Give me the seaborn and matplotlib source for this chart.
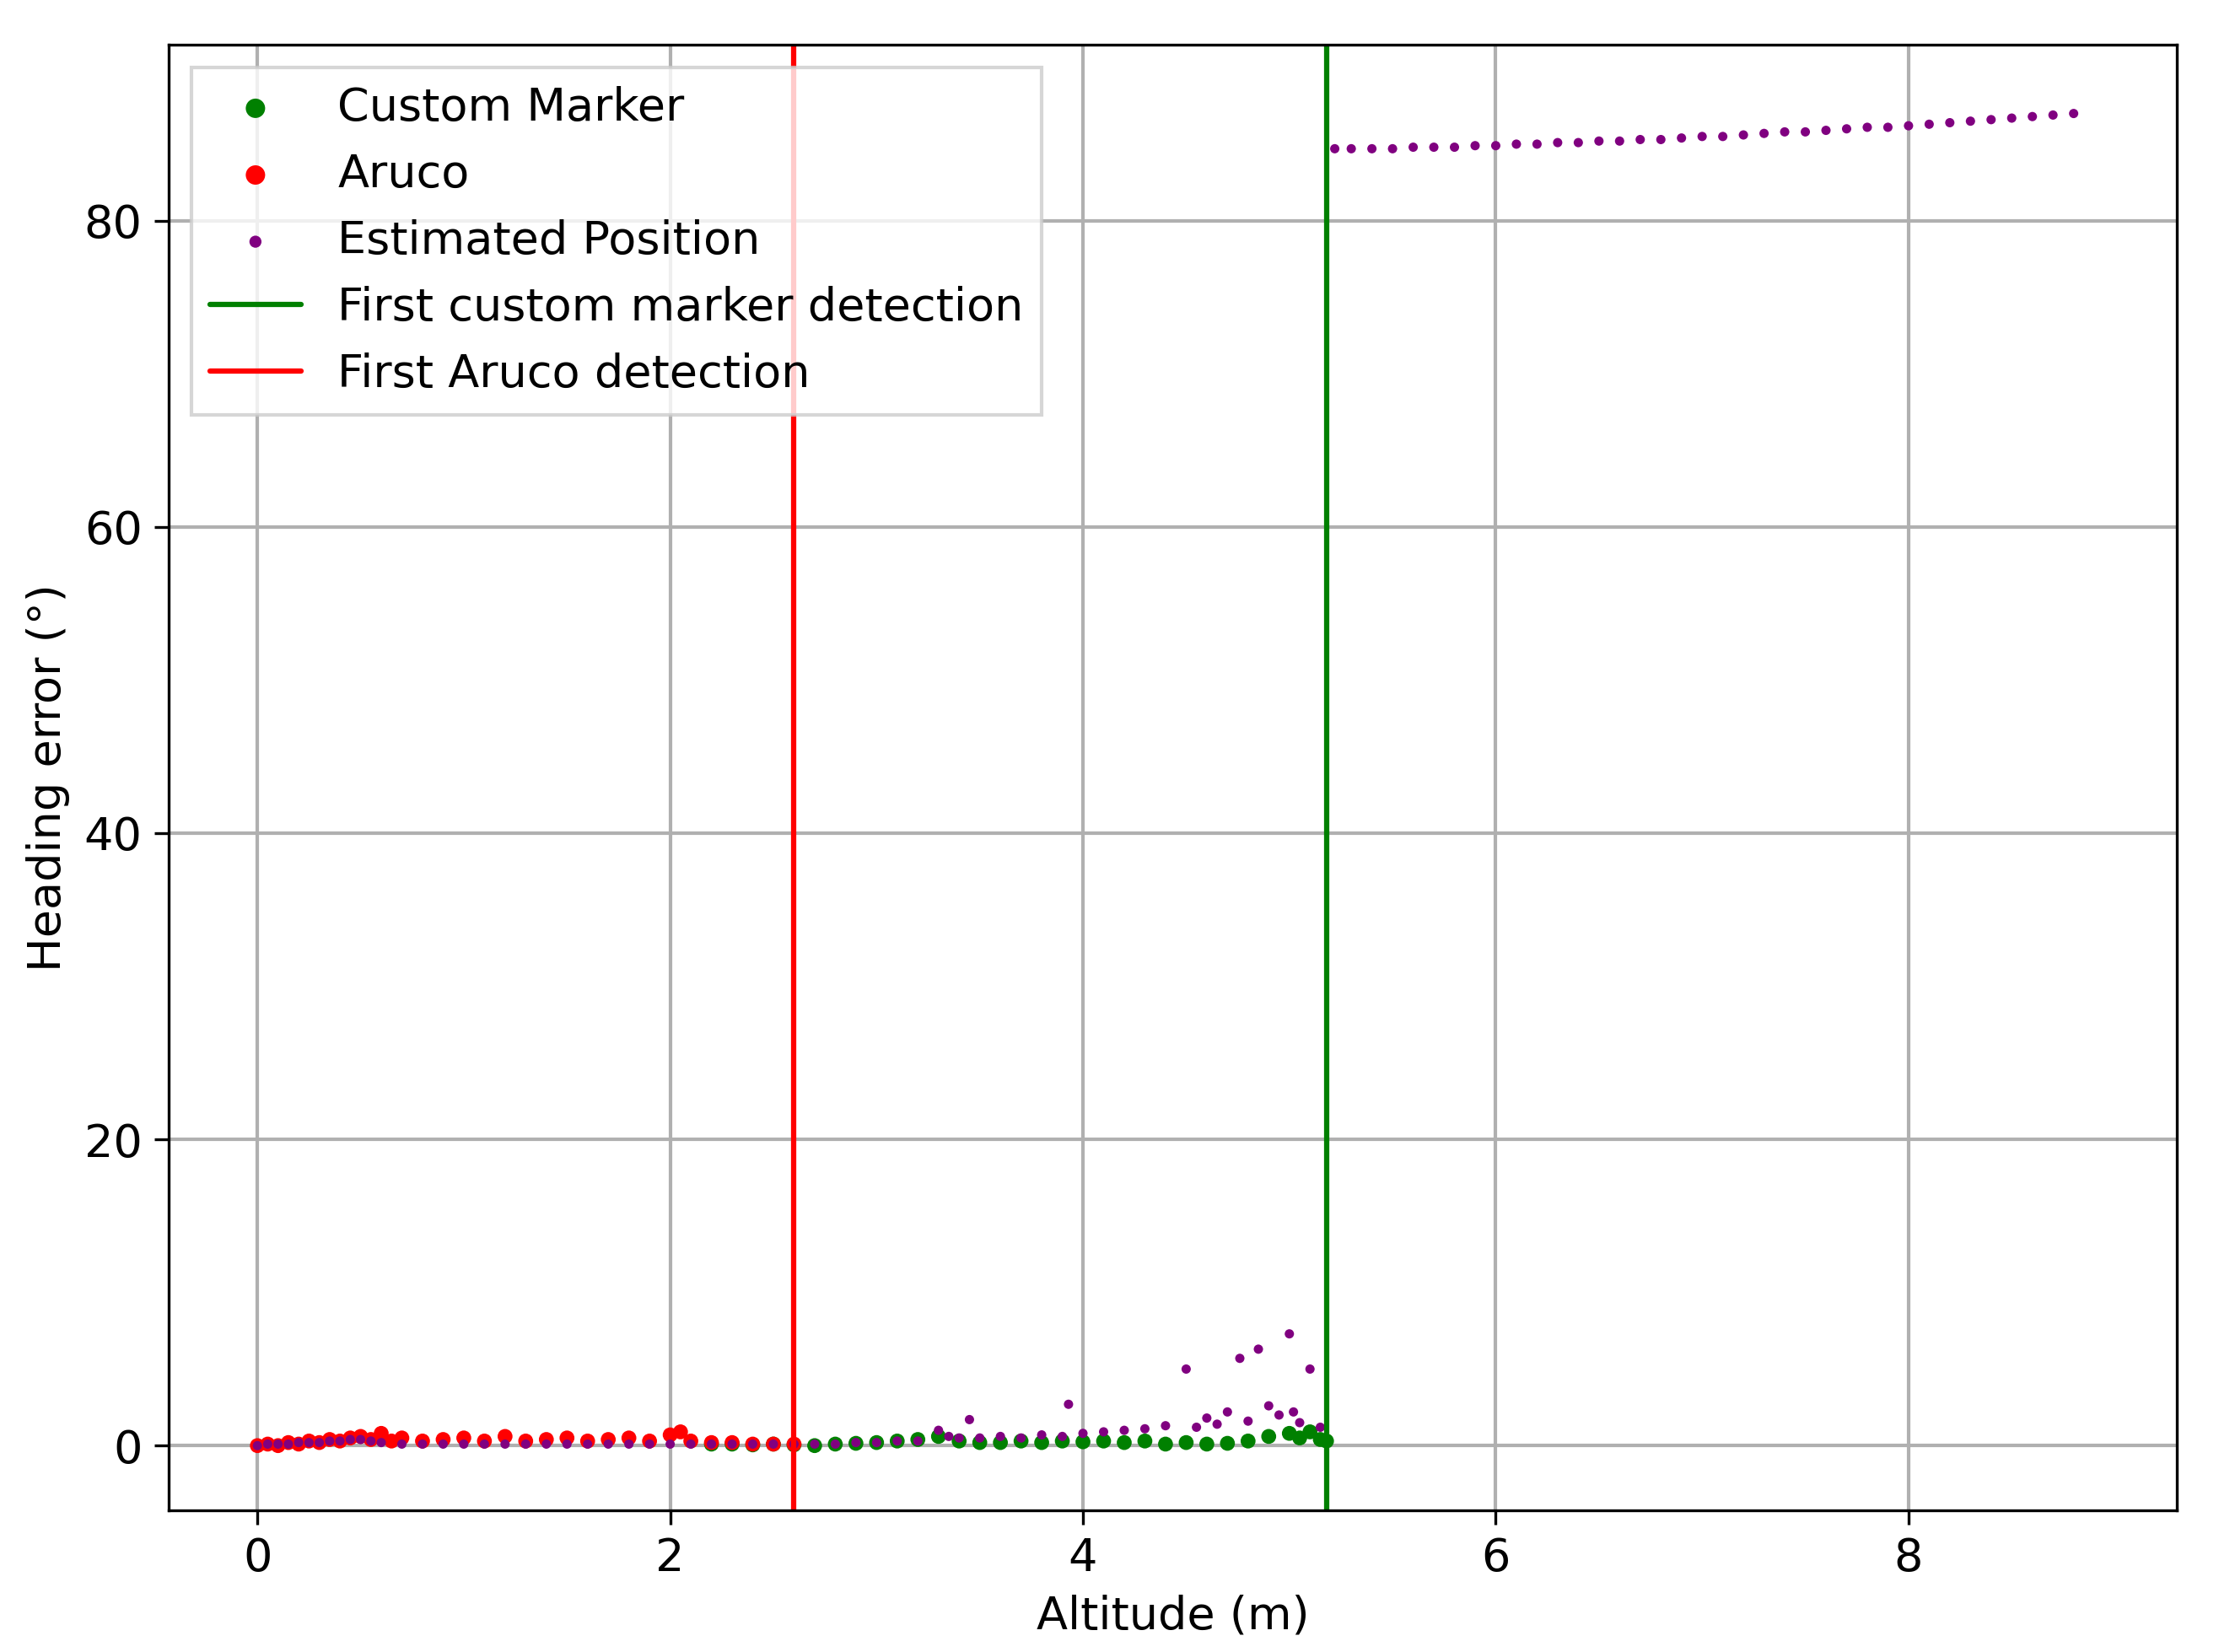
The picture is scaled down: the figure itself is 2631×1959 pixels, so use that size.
import numpy as np
import pandas as pd
import matplotlib
matplotlib.use("Agg")
import matplotlib.pyplot as plt
import seaborn as sns

# ====== Data ======
custom_x = [2.20, 2.30, 2.40, 2.50, 2.60, 2.70, 2.80, 2.90, 3.00, 3.10, 3.20, 3.30, 3.40, 3.50,
            3.60, 3.70, 3.80, 3.90, 4.00, 4.10, 4.20, 4.30, 4.40, 4.50, 4.60, 4.70, 4.80, 4.90,
            5.00, 5.05, 5.10, 5.15, 5.18]
custom_y = [0.1, 0.1, 0.05, 0.1, 0.05, 0.0, 0.1, 0.15, 0.2, 0.3, 0.4, 0.6, 0.3, 0.2,
            0.2, 0.3, 0.2, 0.3, 0.25, 0.3, 0.2, 0.3, 0.1, 0.2, 0.1, 0.15, 0.3, 0.6,
            0.8, 0.5, 0.9, 0.4, 0.3]

aruco_x = [0.00, 0.05, 0.10, 0.15, 0.20, 0.25, 0.30, 0.35, 0.40, 0.45, 0.50, 0.55, 0.60, 0.65,
           0.70, 0.80, 0.90, 1.00, 1.10, 1.20, 1.30, 1.40, 1.50, 1.60, 1.70, 1.80, 1.90,
           2.00, 2.05, 2.10, 2.20, 2.30, 2.40, 2.50, 2.60]
aruco_y = [0.0, 0.1, 0.0, 0.2, 0.1, 0.3, 0.2, 0.4, 0.3, 0.5, 0.6, 0.4, 0.8, 0.3,
           0.5, 0.3, 0.4, 0.5, 0.3, 0.6, 0.3, 0.4, 0.5, 0.3, 0.4, 0.5, 0.3,
           0.7, 0.9, 0.3, 0.2, 0.2, 0.1, 0.1, 0.1]

est_x = [0.00, 0.05, 0.10, 0.15, 0.20, 0.25, 0.30, 0.35, 0.40, 0.45, 0.50, 0.55, 0.60, 0.70,
         0.80, 0.90, 1.00, 1.10, 1.20, 1.30, 1.40, 1.50, 1.60, 1.70, 1.80, 1.90, 2.00, 2.10,
         2.20, 2.30, 2.40, 2.50, 2.60, 2.70, 2.80, 2.90, 3.00, 3.10, 3.20, 3.30, 3.35, 3.40,
         3.45, 3.50, 3.60, 3.70, 3.80, 3.90, 3.93, 4.00, 4.10, 4.20, 4.30, 4.40, 4.50, 4.55,
         4.60, 4.65, 4.70, 4.76, 4.80, 4.85, 4.90, 4.95, 5.00, 5.02, 5.05, 5.10, 5.15,
         5.22, 5.30, 5.40, 5.50, 5.60, 5.70, 5.80, 5.90, 6.00, 6.10, 6.20, 6.30, 6.40,
         6.50, 6.60, 6.70, 6.80, 6.90, 7.00, 7.10, 7.20, 7.30, 7.40, 7.50, 7.60, 7.70,
         7.80, 7.90, 8.00, 8.10, 8.20, 8.30, 8.40, 8.50, 8.60, 8.70, 8.80]
est_y = [0.0, 0.1, 0.1, 0.1, 0.2, 0.2, 0.2, 0.3, 0.3, 0.4, 0.4, 0.3, 0.2, 0.1,
         0.1, 0.1, 0.1, 0.1, 0.1, 0.1, 0.1, 0.1, 0.1, 0.1, 0.1, 0.1, 0.1, 0.1,
         0.1, 0.1, 0.1, 0.1, 0.1, 0.1, 0.1, 0.2, 0.2, 0.3, 0.3, 1.0, 0.6, 0.5,
         1.7, 0.5, 0.6, 0.5, 0.7, 0.6, 2.7, 0.8, 0.9, 1.0, 1.1, 1.3, 5.0, 1.2,
         1.8, 1.4, 2.2, 5.7, 1.6, 6.3, 2.6, 2.0, 7.3, 2.2, 1.5, 5.0, 1.2,
         84.7, 84.7, 84.7, 84.7, 84.8, 84.8, 84.8, 84.9, 84.9, 85.0, 85.0, 85.1, 85.1,
         85.2, 85.2, 85.3, 85.3, 85.4, 85.5, 85.5, 85.6, 85.7, 85.8, 85.8, 85.9, 86.0,
         86.1, 86.1, 86.2, 86.3, 86.4, 86.5, 86.6, 86.7, 86.8, 86.9, 87.0]

first_custom = 5.18
first_aruco = 2.6

sns.set_style("ticks")
plt.rcParams['font.family'] = ['DejaVu Sans']
plt.rcParams['text.color'] = 'black'
plt.rcParams['axes.labelcolor'] = 'black'
plt.rcParams['xtick.color'] = 'black'
plt.rcParams['ytick.color'] = 'black'

fig, ax = plt.subplots(figsize=(8.77, 6.53), dpi=300)
sns.scatterplot(x=custom_x, y=custom_y, color="green", s=18, edgecolor="none", label="Custom Marker", ax=ax)
sns.scatterplot(x=aruco_x, y=aruco_y, color="red", s=18, edgecolor="none", label="Aruco", ax=ax)
sns.scatterplot(x=est_x, y=est_y, color="purple", s=7, edgecolor="none", label="Estimated Position", ax=ax)
ax.axvline(first_custom, color="green", lw=1.5, label="First custom marker detection")
ax.axvline(first_aruco, color="red", lw=1.5, label="First Aruco detection")

ax.set_xlim(-0.43, 9.3)
ax.set_ylim(-4.2, 91.5)
ax.set_xticks([0, 2, 4, 6, 8])
ax.set_yticks([0, 20, 40, 60, 80])
ax.grid(True, color="#b0b0b0", lw=1)
ax.set_axisbelow(True)
for s in ax.spines.values():
    s.set_color("black")
ax.tick_params(labelsize=13, direction="out", length=4, color="black")
ax.set_xlabel("Altitude (m)", fontsize=13, labelpad=4)
ax.set_ylabel("Heading error (°)", fontsize=13)
ax.legend(loc="upper left", fontsize=13, frameon=True, framealpha=0.8, edgecolor="#cccccc", fancybox=False,
          markerscale=1.3)

plt.subplots_adjust(left=0.076, right=0.986 - 0.005, top=0.973, bottom=0.086)
fig.savefig("out.png", dpi=300)
